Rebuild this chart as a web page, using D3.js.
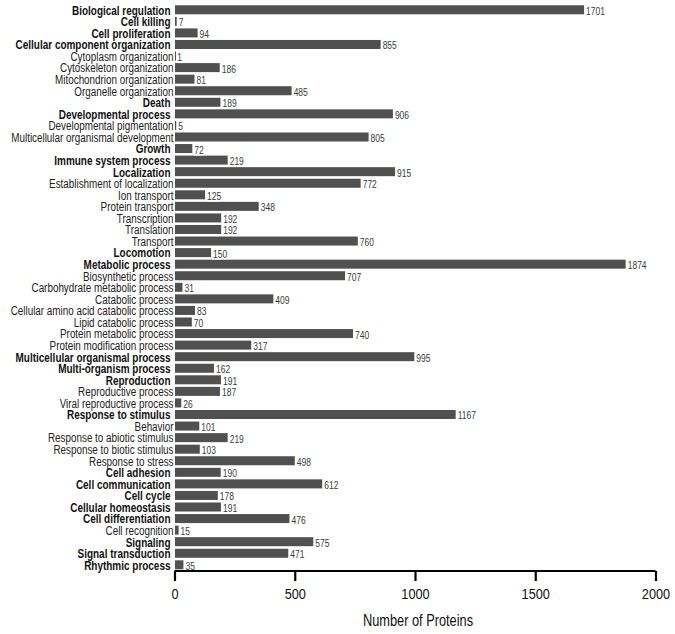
<!DOCTYPE html>
<html><head><meta charset="utf-8">
<script src="https://cdn.jsdelivr.net/npm/d3@7"></script>
<style>
body{margin:0;background:#fff;}
svg{display:block;}
</style></head>
<body>
<svg id="chart" width="675" height="634"></svg>
<script>
const categories = [
"Biological regulation","Cell killing","Cell proliferation","Cellular component organization",
"Cytoplasm organization","Cytoskeleton organization","Mitochondrion organization","Organelle organization",
"Death","Developmental process","Developmental pigmentation","Multicellular organismal development",
"Growth","Immune system process","Localization","Establishment of localization","Ion transport",
"Protein transport","Transcription","Translation","Transport","Locomotion","Metabolic process",
"Biosynthetic process","Carbohydrate metabolic process","Catabolic process",
"Cellular amino acid catabolic process","Lipid catabolic process","Protein metabolic process",
"Protein modification process","Multicellular organismal process","Multi-organism process",
"Reproduction","Reproductive process","Viral reproductive process","Response to stimulus",
"Behavior","Response to abiotic stimulus","Response to biotic stimulus","Response to stress",
"Cell adhesion","Cell communication","Cell cycle","Cellular homeostasis","Cell differentiation",
"Cell recognition","Signaling","Signal transduction","Rhythmic process"];
const values = [1701,7,94,855,1,186,81,485,189,906,5,805,72,219,915,772,125,348,192,192,760,150,1874,
707,31,409,83,70,740,317,995,162,191,187,26,1167,101,219,103,498,190,612,178,191,476,15,575,471,35];
const boldCategories = ["Biological regulation","Cell killing","Cell proliferation","Cellular component organization",
"Death","Developmental process","Growth","Immune system process","Localization","Locomotion",
"Metabolic process","Multicellular organismal process","Multi-organism process","Reproduction",
"Response to stimulus","Cell adhesion","Cell communication","Cell cycle","Cellular homeostasis",
"Cell differentiation","Signaling","Signal transduction","Rhythmic process"];
const xTicks = [0,500,1000,1500,2000];
const xTitle = "Number of Proteins";

const data = categories.map((c,i)=>({cat:c, val:values[i], bold:boldCategories.includes(c)}));
const svg = d3.select("#chart");
const FONT = "'Liberation Sans',Arial,sans-serif";

const x = d3.scaleLinear().domain([0,2000]).range([174.5,655.5]);
const y = d3.scaleBand().domain(categories).range([4,570.6]).paddingInner(0.22).paddingOuter(0.11);

// bars
svg.append("g").selectAll("rect").data(data).join("rect")
  .attr("x", x(0)+0.5)
  .attr("y", d=>y(d.cat))
  .attr("width", d=>Math.max(1, x(d.val)-x(0)))
  .attr("height", y.bandwidth())
  .attr("fill", "#505050");

// value labels with white halo
svg.append("g").selectAll("text").data(data).join("text")
  .attr("transform", d=>`translate(${x(d.val)+2.5},${y(d.cat)+y.bandwidth()/2+1.5}) scale(0.85,1)`)
  .attr("dy","0.35em")
  .attr("font-family", FONT)
  .attr("font-size", 10)
  .attr("fill", "#3a3a3a")
  .attr("stroke","#fff").attr("stroke-width",3).attr("paint-order","stroke")
  .text(d=>d.val);

// category labels (condensed via horizontal scale)
const labels = svg.append("g").selectAll("text").data(data).join("text")
  .attr("text-anchor","end")
  .attr("dy","0.36em")
  .attr("font-family", FONT)
  .attr("font-size", 13.5)
  .attr("font-weight", d=> d.bold ? "bold" : "normal")
  .attr("fill", d=> d.bold ? "#111" : "#222")
  .text(d=>d.cat);
let wN = 0, wB = 0;
labels.each(function(d){ const w=this.getComputedTextLength(); if(d.bold) wB=Math.max(wB,w); else wN=Math.max(wN,w); });
const fN = 163 / wN, fB = 155 / wB;
labels.attr("transform", d=>`translate(${d.bold?170.5:173.5},${y(d.cat)+y.bandwidth()/2}) scale(${d.bold?fB:fN},1)`);

// x axis
const axis = svg.append("g").attr("transform","translate(0,571)")
  .call(d3.axisBottom(x).tickValues(xTicks).tickSize(10).tickPadding(7).tickFormat(d3.format("d")));
axis.select(".domain").attr("stroke","#000").attr("stroke-width",2.2).attr("d", `M${x(0)},0H${x(2000)}`);
axis.selectAll(".tick line").attr("stroke","#000").attr("stroke-width",2.2);
axis.selectAll(".tick text")
  .attr("font-family", FONT).attr("font-size",15).attr("fill","#111")
  .attr("transform","scale(0.85,1)").attr("x",0);

svg.append("text")
  .attr("transform", `translate(${x(1000)+3},626) scale(0.8,1)`)
  .attr("text-anchor","middle")
  .attr("font-family", FONT)
  .attr("font-size",16)
  .attr("fill","#111")
  .text(xTitle);
</script>
</body></html>
